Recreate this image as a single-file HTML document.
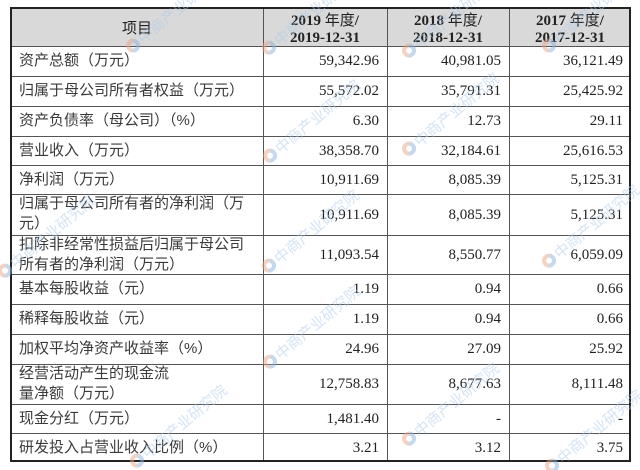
<!DOCTYPE html>
<html>
<head>
<meta charset="utf-8">
<style>
  html,body{margin:0;padding:0;background:#fff;}
  #c{position:relative;width:640px;height:470px;overflow:hidden;background:#fff;
     font-family:"Liberation Serif","Noto Sans CJK SC",serif;}
  .hl{position:absolute;height:1px;background:#555;left:11px;width:620px;}
  .vl{position:absolute;width:1px;background:#555;top:8px;height:454px;}
  .lab{position:absolute;left:19px;width:240px;display:flex;align-items:center;
       font-family:"Liberation Sans","Noto Sans CJK SC",sans-serif;font-size:15px;color:#3a3a3a;line-height:20px;}
  .num{position:absolute;display:flex;align-items:center;justify-content:flex-end;
       font-family:"Liberation Serif",serif;font-size:15px;color:#222;padding-top:1px;box-sizing:border-box;}
  .c1{left:263px;width:116px;}
  .c2{left:387px;width:114px;}
  .c3{left:509px;width:114px;}
  .hd{position:absolute;top:12px;text-align:center;font-family:"Liberation Serif","Noto Sans CJK SC",serif;
      font-weight:bold;font-size:15px;line-height:17px;color:#222;}
  .hd .cj{font-family:"Liberation Sans","Noto Sans CJK SC",sans-serif;font-weight:normal;}
  .wm{position:absolute;transform-origin:0 50%;transform:rotate(-40deg);white-space:nowrap;
      font-family:"Liberation Sans","Noto Sans CJK SC",sans-serif;font-size:15px;color:#a9c9ea;opacity:0.5;}
  .wm i{display:inline-block;width:14px;height:14px;border-radius:50%;border:4px solid #eaa585;
      border-right-color:#8ab4df;border-bottom-color:#8ab4df;box-sizing:border-box;margin-right:2px;vertical-align:-1px;}
</style>
</head>
<body>
<div id="c">
  <div style="position:absolute;left:11px;top:8px;width:620px;height:38px;background:#d9d9d9;"></div>

  <div class="hl" style="top:46px"></div>
  <div class="hl" style="top:76px"></div>
  <div class="hl" style="top:106px"></div>
  <div class="hl" style="top:136px"></div>
  <div class="hl" style="top:165px"></div>
  <div class="hl" style="top:194px"></div>
  <div class="hl" style="top:235px"></div>
  <div class="hl" style="top:274px"></div>
  <div class="hl" style="top:304px"></div>
  <div class="hl" style="top:334px"></div>
  <div class="hl" style="top:364px"></div>
  <div class="hl" style="top:404px"></div>
  <div class="hl" style="top:433px"></div>

  <div class="vl" style="left:263px"></div>
  <div class="vl" style="left:387px"></div>
  <div class="vl" style="left:509px"></div>

  <div style="position:absolute;left:10px;top:7px;width:617px;height:451px;border:2px solid #222;"></div>

  <div style="position:absolute;left:11px;top:8px;width:252px;height:38px;display:flex;align-items:center;justify-content:center;
      font-family:'Liberation Sans','Noto Sans CJK SC',sans-serif;font-size:15px;color:#222;">项目</div>
  <div class="hd" style="left:263px;width:124px;">2019 <span class="cj">年度</span>/<br>2019-12-31</div>
  <div class="hd" style="left:387px;width:122px;">2018 <span class="cj">年度</span>/<br>2018-12-31</div>
  <div class="hd" style="left:509px;width:122px;">2017 <span class="cj">年度</span>/<br>2017-12-31</div>

  <div class="lab" style="top:46px;height:30px;">资产总额（万元）</div>
  <div class="num c1" style="top:46px;height:30px;">59,342.96</div>
  <div class="num c2" style="top:46px;height:30px;">40,981.05</div>
  <div class="num c3" style="top:46px;height:30px;">36,121.49</div>

  <div class="lab" style="top:76px;height:30px;">归属于母公司所有者权益（万元）</div>
  <div class="num c1" style="top:76px;height:30px;">55,572.02</div>
  <div class="num c2" style="top:76px;height:30px;">35,791.31</div>
  <div class="num c3" style="top:76px;height:30px;">25,425.92</div>

  <div class="lab" style="top:106px;height:30px;">资产负债率（母公司）（%）</div>
  <div class="num c1" style="top:106px;height:30px;">6.30</div>
  <div class="num c2" style="top:106px;height:30px;">12.73</div>
  <div class="num c3" style="top:106px;height:30px;">29.11</div>

  <div class="lab" style="top:136px;height:29px;">营业收入（万元）</div>
  <div class="num c1" style="top:136px;height:29px;">38,358.70</div>
  <div class="num c2" style="top:136px;height:29px;">32,184.61</div>
  <div class="num c3" style="top:136px;height:29px;">25,616.53</div>

  <div class="lab" style="top:165px;height:29px;">净利润（万元）</div>
  <div class="num c1" style="top:165px;height:29px;">10,911.69</div>
  <div class="num c2" style="top:165px;height:29px;">8,085.39</div>
  <div class="num c3" style="top:165px;height:29px;">5,125.31</div>

  <div class="lab" style="top:194px;height:39px;">归属于母公司所有者的净利润（万<br>元）</div>
  <div class="num c1" style="top:194px;height:41px;">10,911.69</div>
  <div class="num c2" style="top:194px;height:41px;">8,085.39</div>
  <div class="num c3" style="top:194px;height:41px;">5,125.31</div>

  <div class="lab" style="top:235px;height:39px;">扣除非经常性损益后归属于母公司<br>所有者的净利润（万元）</div>
  <div class="num c1" style="top:235px;height:39px;">11,093.54</div>
  <div class="num c2" style="top:235px;height:39px;">8,550.77</div>
  <div class="num c3" style="top:235px;height:39px;">6,059.09</div>

  <div class="lab" style="top:274px;height:30px;">基本每股收益（元）</div>
  <div class="num c1" style="top:274px;height:30px;">1.19</div>
  <div class="num c2" style="top:274px;height:30px;">0.94</div>
  <div class="num c3" style="top:274px;height:30px;">0.66</div>

  <div class="lab" style="top:304px;height:30px;">稀释每股收益（元）</div>
  <div class="num c1" style="top:304px;height:30px;">1.19</div>
  <div class="num c2" style="top:304px;height:30px;">0.94</div>
  <div class="num c3" style="top:304px;height:30px;">0.66</div>

  <div class="lab" style="top:334px;height:30px;">加权平均净资产收益率（%）</div>
  <div class="num c1" style="top:334px;height:30px;">24.96</div>
  <div class="num c2" style="top:334px;height:30px;">27.09</div>
  <div class="num c3" style="top:334px;height:30px;">25.92</div>

  <div class="lab" style="top:364px;height:39px;">经营活动产生的现金流<br>量净额（万元）</div>
  <div class="num c1" style="top:364px;height:40px;">12,758.83</div>
  <div class="num c2" style="top:364px;height:40px;">8,677.63</div>
  <div class="num c3" style="top:364px;height:40px;">8,111.48</div>

  <div class="lab" style="top:404px;height:29px;">现金分红（万元）</div>
  <div class="num c1" style="top:404px;height:29px;">1,481.40</div>
  <div class="num c2" style="top:404px;height:29px;">-</div>
  <div class="num c3" style="top:404px;height:29px;">-</div>

  <div class="lab" style="top:433px;height:29px;">研发投入占营业收入比例（%）</div>
  <div class="num c1" style="top:433px;height:29px;">3.21</div>
  <div class="num c2" style="top:433px;height:29px;">3.12</div>
  <div class="num c3" style="top:433px;height:29px;">3.75</div>

  <div class="wm" style="left:128px;top:40px;"><i></i>中商产业研究院</div>
  <div class="wm" style="left:264px;top:42px;"><i></i>中商产业研究院</div>
  <div class="wm" style="left:404px;top:45px;"><i></i>中商产业研究院</div>
  <div class="wm" style="left:544px;top:40px;"><i></i>中商产业研究院</div>
  <div class="wm" style="left:265px;top:150px;"><i></i>中商产业研究院</div>
  <div class="wm" style="left:404px;top:143px;"><i></i>中商产业研究院</div>
  <div class="wm" style="left:0px;top:265px;"><i></i>中商产业研究院</div>
  <div class="wm" style="left:264px;top:260px;"><i></i>中商产业研究院</div>
  <div class="wm" style="left:544px;top:255px;"><i></i>中商产业研究院</div>
  <div class="wm" style="left:265px;top:356px;"><i></i>中商产业研究院</div>
  <div class="wm" style="left:404px;top:433px;"><i></i>中商产业研究院</div>
  <div class="wm" style="left:132px;top:455px;"><i></i>中商产业研究院</div>
  <div class="wm" style="left:547px;top:460px;"><i></i>中商产业研究院</div>
</div>
</body>
</html>
